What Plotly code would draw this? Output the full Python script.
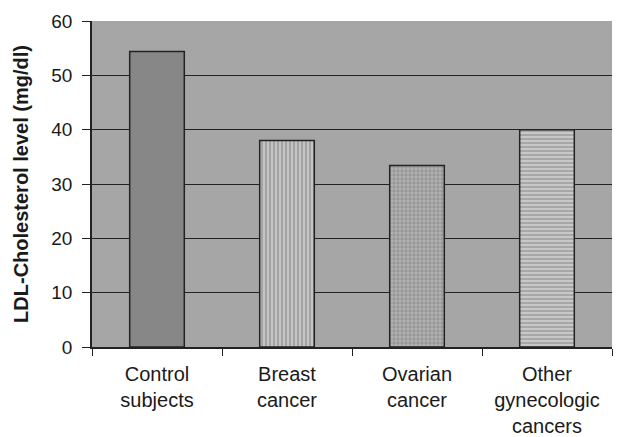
import plotly.graph_objects as go

categories = ["Control<br>subjects", "Breast<br>cancer", "Ovarian<br>cancer", "Other<br>gynecologic<br>cancers"]
values = [54.4, 38.0, 33.4, 40.0]
bar_colors = ["#878787", "#c4c4c4", "#b2b2b2", "#c8c8c8"]
pattern_fg = ["#878787", "#d6d6d6", "#888888", "#d2d2d2"]
patterns = ["", "|", "+", "-"]
y_ticks = [0, 10, 20, 30, 40, 50, 60]

fig = go.Figure()
fig.add_trace(go.Bar(
    x=categories, y=values,
    marker=dict(
        color=bar_colors,
        line=dict(color="#222222", width=1.5),
        pattern=dict(shape=patterns, fgcolor=pattern_fg, size=4, solidity=0.25,
                     fillmode="overlay"),
    ),
    width=0.42,
))

# page body has an 8px default margin, so the figure is sized to fit the window
fig.update_layout(
    width=622, height=429,
    margin=dict(l=84, r=18, t=13, b=90),
    paper_bgcolor="white",
    plot_bgcolor="#a6a6a6",
    showlegend=False,
    font=dict(family="Liberation Sans, Arial, sans-serif", size=19, color="#1a1a1a"),
    bargap=0.58,
)
fig.update_xaxes(
    showline=True, linecolor="#222222", linewidth=1.5,
    ticks="outside", tickson="boundaries", ticklen=7, tickcolor="#222222", tickwidth=1,
    showgrid=False, tickfont=dict(size=20), ticklabelstandoff=8,
    automargin=False,
)
fig.update_yaxes(
    range=[0, 60], tickvals=y_ticks,
    showline=True, linecolor="#222222", linewidth=1.5,
    ticks="outside", ticklen=8, tickcolor="#222222",
    showgrid=True, gridcolor="#222222", gridwidth=1.2,
    zeroline=False, automargin=False,
    tickfont=dict(size=19), ticklabelstandoff=6,
    title=dict(text="<b>LDL-Cholesterol level (mg/dl)</b>", font=dict(size=20), standoff=17),
)
fig.write_html("out.html")
